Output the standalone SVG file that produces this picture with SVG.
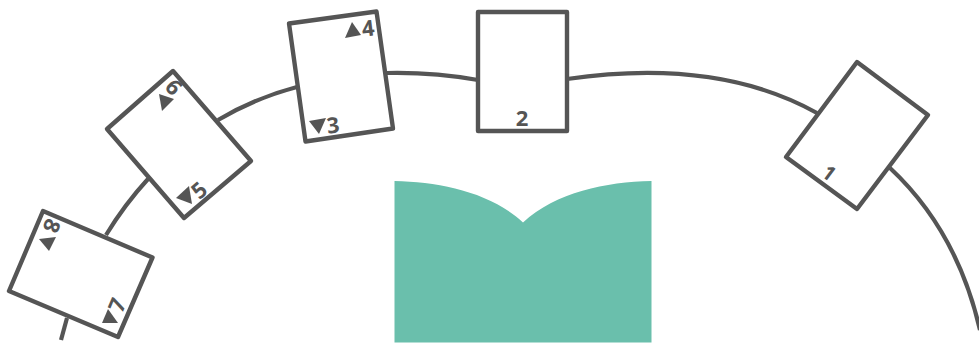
<svg xmlns="http://www.w3.org/2000/svg" width="979" height="343" viewBox="0 0 979 343">
<style>
.n{fill:#fff;stroke:#555;stroke-width:4.400;stroke-linejoin:round}
.c{fill:none;stroke:#555;stroke-width:4.200}
.t{fill:#555;stroke:none}
text{font-family:"Open Sans","Liberation Sans",sans-serif;font-weight:700;font-size:22px;fill:#555;text-anchor:middle}
</style>
<rect width="979" height="343" fill="#fff"/>
<path id="book" d="M394.500 181C440 182 490 192 523 222.500C556 192 606 182 651.500 181V342.500H394.500Z" fill="#6abfac"/>
<g id="connectors">
<path class="c" d="M61 340L67 318"/>
<path class="c" d="M106 235Q125 204 148 179"/>
<path class="c" d="M218 120Q255 98 297 87"/>
<path class="c" d="M387 73Q433 72 478 80"/>
<path class="c" d="M567 79C650 67 740 70 817 113"/>
<path class="c" d="M890 168C935 210 965 265 980 330"/>
</g>
<g id="node-1"><polygon class="n" points="857,62 928,115 857,209 786,157"/><text transform="translate(829,173) rotate(37)" y="7" style="font-size:20px">1</text></g>
<g id="node-2"><rect class="n" x="478" y="12" width="89" height="119"/><text x="522" y="126">2</text></g>
<g id="node-3-4"><polygon class="n" points="289,23.500 376.500,11.500 393,128.500 305.500,141.500"/><polygon class="t" points="345,38 352,22 361,35"/><text transform="translate(368,28) rotate(-7)" y="8">4</text><polygon class="t" points="309,121 326,118 319,134"/><text transform="translate(333,125) rotate(-7)" y="8">3</text></g>
<g id="node-5-6"><polygon class="n" points="107,129 173,71 251,161 184,218"/><polygon class="t" points="159,94 174,99 162,111"/><text transform="translate(174,87) rotate(49)" y="8">6</text><polygon class="t" points="189,186 192,204 176,198"/><text transform="translate(199,190) rotate(-41)" y="8">5</text></g>
<g id="node-7-8"><polygon class="n" points="43,211 152.500,257.500 118,337 9,291"/><polygon class="t" points="39,239 56,237 49,251"/><text transform="translate(52,226) rotate(113)" y="8">8</text><polygon class="t" points="108,309 118,323 102,323"/><text transform="translate(117,305) rotate(-67)" y="8">7</text></g>
</svg>
